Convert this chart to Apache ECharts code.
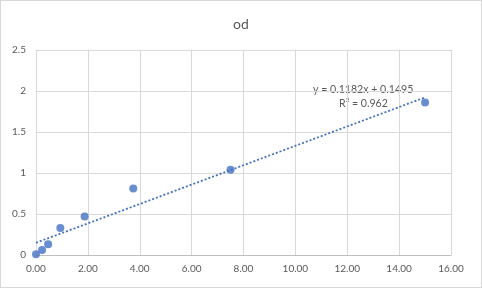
<!DOCTYPE html>
<html><head><meta charset="utf-8">
<script src="https://cdn.jsdelivr.net/npm/echarts@6/dist/echarts.min.js"></script>
<style>html,body{margin:0;padding:0;background:#fff}#c{width:482px;height:288px;box-sizing:border-box;border:1px solid #d9d9d9}</style>
</head><body><div id="c"></div>
<script>
const concentrations = [0, 0.234, 0.469, 0.938, 1.875, 3.75, 7.5, 15];
const odValues = [0.01, 0.06, 0.13, 0.33, 0.47, 0.81, 1.04, 1.86];
const trendSlope = 0.1182;
const trendIntercept = 0.1495;
const trendRange = [0, 15];
const equationText = 'y = 0.1182x + 0.1495';
const r2Text = 'R² = 0.962';
const titleText = 'od';

const chart = echarts.init(document.getElementById('c'), null, {renderer: 'canvas'});
const font = 'Lato, "Open Sans", sans-serif';
const txt = '#595959';
chart.setOption({
  animation: false,
  title: {text: titleText, left: 'center', top: 11, textStyle: {fontFamily: font, fontSize: 14, fontWeight: 'normal', color: txt}},
  grid: {left: 35, right: 30, top: 49, bottom: 32},
  xAxis: {type: 'value', min: 0, max: 16, interval: 2,
    axisLine: {show: true, lineStyle: {color: '#bfbfbf'}}, axisTick: {show: false},
    splitLine: {show: true, lineStyle: {color: '#d9d9d9'}},
    axisLabel: {fontFamily: font, fontSize: 10, color: txt, margin: 9, formatter: v => v.toFixed(2)}},
  yAxis: {type: 'value', min: 0, max: 2.5, interval: 0.5,
    axisLine: {show: false}, axisTick: {show: false},
    splitLine: {show: true, lineStyle: {color: '#d9d9d9'}},
    axisLabel: {fontFamily: font, fontSize: 10, color: txt, margin: 10}},
  series: [
    {type: 'line', data: trendRange.map(x => [x, trendIntercept + trendSlope * x]), symbol: 'none',
     lineStyle: {color: '#4472c4', width: 1.8, type: [2, 2]}, z: 2},
    {type: 'scatter', data: concentrations.map((x, i) => [x, odValues[i]]), symbolSize: 8,
     itemStyle: {color: '#4472c4'}, z: 3}
  ],
  graphic: [
    {type: 'text', left: 312, top: 83, style: {text: equationText, fontFamily: font, fontSize: 10.6, fill: txt}},
    {type: 'text', left: 338, top: 97, style: {text: r2Text, fontFamily: font, fontSize: 10.6, fill: txt}}
  ]
});
</script></body></html>
